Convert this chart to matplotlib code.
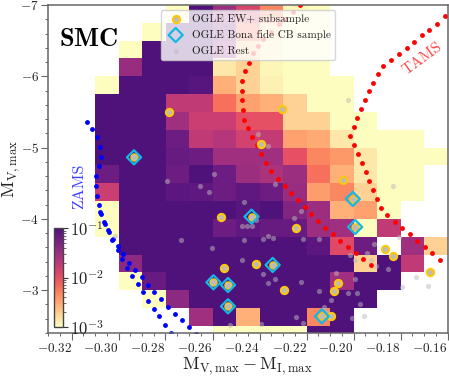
import numpy as np
import matplotlib
matplotlib.use('Agg')
import matplotlib.pyplot as plt
from matplotlib.colors import LogNorm, LinearSegmentedColormap
from matplotlib.ticker import MultipleLocator

plt.rcParams['font.family'] = ['cmr10', 'DejaVu Sans']
plt.rcParams['mathtext.fontset'] = 'cm'
plt.rcParams['axes.formatter.use_mathtext'] = True
plt.rcParams['axes.unicode_minus'] = True

n = np.nan

# log10 of the density in each cell, rows from MV=-7 down, columns from colour=-0.31
log_density = np.array([
    [n, n, n, -3, -1, -1.5, -1.9, -2.33, -2.95, -3, n, n, n, n, n],
    [n, n, -3, -1, -1, -1.3, -2.2, -2.8, -3, -3, n, n, n, n, n],
    [n, -3, -1, -1, -1, -1.5, -2.7, -2.9, -3, -3, n, n, n, n, n],
    [n, -1.47, -1, -1, -1, -2.87, -2.75, -2.95, -3, -3, n, n, n, n, n],
    [-3, -1, -1, -1, -1.05, -2.55, -2.75, -2.92, -3, -3, -3, n, n, n, n],
    [-1, -1, -1, -1.73, -1.73, -2.2, -2.47, -2.55, -2.75, -3, -3, n, n, n, n],
    [-1, -1, -1, -1.53, -1.8, -1.8, -2.0, -2.0, -2.75, -2.75, -3, -3, n, n, n],
    [-1, -1, -1, -1.2, -1.73, -1.67, -1.85, -1.75, -2.47, -2.52, -2.87, -3, -3, -3, n],
    [-1, -1, -1, -1.15, -1.2, -1.53, -1.53, -1.53, -2.0, -2.33, -2.42, -2.87, -3, -3, -3],
    [-1.2, -1, -1, -1.2, -1, -1.2, -1.5, -1.6, -1.5, -2.2, -2.55, -2.87, -3, -3, n],
    [-1.8, -1, -1, -1.08, -1.1, -1.2, -1.1, -1.2, -1.47, -2.45, -2.33, -2.75, -3, -3, n],
    [-3, -1, -1, -1, -1, -1, -1.05, -1, -1.33, -1.5, -2.55, -2.47, -3, n, n],
    [-3, -1, -1, -1, -1, -1.2, -1.1, -1.15, -1.15, -1.5, -1.53, -3, -1.73, n, n],
    [n, -1, -1, -1, -1, -1, -1, -1, -1, -1.08, -1.93, -1.2, n, -1.53, -2.75],
    [n, -1.4, -1, -1, -1, -1, -1, -1, -1, -1, -1, -2.75, -1, -1.73, n],
    [n, -3, -1.15, -1, -1, -1, -1, -1, -1, -1, -1.53, -1, -1, n, n],
    [n, n, -3, -1.4, -1, -1, -1, -1, -1, -1, -1, -1, n, n, n],
    [n, n, n, n, -1.53, -1, -2.55, -1, -1, -2.33, -1, n, n, n, n],
    [n, n, n, n, n, -3, -3, -3, -3, -1, -1, n, n, n, n],
])
color_edges = np.arange(-0.31, -0.155, 0.01)
mag_edges = np.arange(-7.0, -2.2, 0.25)

# ZAMS tracks
zams1_x = [-0.3134, -0.3112, -0.3091, -0.3078, -0.3075, -0.3084, -0.3094, -0.3095, -0.3091, -0.3084,
           -0.3073, -0.3056, -0.3039, -0.3024, -0.3003, -0.2982, -0.2956, -0.2929, -0.2902, -0.2874,
           -0.2847, -0.2819, -0.2790, -0.2761, -0.2731, -0.2700, -0.2670]
zams1_y = [-5.359, -5.257, -5.144, -5.014, -4.869, -4.738, -4.602, -4.462, -4.326, -4.191,
           -4.074, -3.934, -3.817, -3.723, -3.616, -3.503, -3.387, -3.284, -3.181, -3.078,
           -2.975, -2.872, -2.769, -2.671, -2.578, -2.484, -2.391]
zams2_x = [-0.3078, -0.3061, -0.3046, -0.3026, -0.3003, -0.2985, -0.2964, -0.2941, -0.2918, -0.2895,
           -0.2873, -0.2850, -0.2826, -0.2802, -0.2778]
zams2_y = [-4.097, -3.957, -3.840, -3.700, -3.560, -3.443, -3.316, -3.204, -3.087, -2.970,
           -2.854, -2.741, -2.634, -2.517, -2.405]

# TAMS tracks
tams1_x = [-0.2227, -0.2256, -0.2291, -0.2319, -0.2352, -0.2383, -0.2407, -0.2426, -0.2444, -0.2463,
           -0.2475, -0.2474, -0.2473, -0.2471, -0.2468, -0.2451, -0.2433, -0.2412, -0.2393, -0.2372,
           -0.2351, -0.2321, -0.2293, -0.2264, -0.2236, -0.2207, -0.2179, -0.2149, -0.2120, -0.2088,
           -0.2056, -0.2023, -0.1990, -0.1958, -0.1925]
tams1_y = [-6.996, -6.90, -6.81, -6.73, -6.62, -6.53, -6.43, -6.32, -6.19, -6.075,
           -5.94, -5.80, -5.67, -5.53, -5.39, -5.28, -5.15, -5.03, -4.91, -4.78,
           -4.67, -4.565, -4.466, -4.368, -4.270, -4.167, -4.069, -3.966, -3.868, -3.784,
           -3.695, -3.611, -3.527, -3.438, -3.349]
tams2_x = [-0.1610, -0.1643, -0.1677, -0.1710, -0.1742, -0.1773, -0.1806, -0.1840, -0.1873, -0.1897,
           -0.1915, -0.1932, -0.1949, -0.1966, -0.1983, -0.2000, -0.2015, -0.1998, -0.1982, -0.1965,
           -0.1948, -0.1932, -0.1915, -0.1900, -0.1883, -0.1856, -0.1823, -0.1792, -0.1759, -0.1728,
           -0.1697, -0.1664, -0.1632]
tams2_y = [-6.842, -6.739, -6.655, -6.575, -6.486, -6.402, -6.318, -6.229, -6.140, -6.037,
           -5.911, -5.790, -5.663, -5.537, -5.415, -5.289, -5.163, -5.037, -4.916, -4.785,
           -4.658, -4.527, -4.401, -4.275, -4.149, -4.050, -3.962, -3.873, -3.784, -3.695,
           -3.606, -3.517, -3.429]

# stars
ew_x = [-0.2785, -0.2304, -0.2393, -0.2565, -0.2553, -0.2044, -0.2244, -0.2413, -0.2294, -0.2064,
        -0.2083, -0.2095, -0.1864, -0.1834, -0.1674]
ew_y = [-5.504, -5.542, -5.051, -4.027, -3.307, -4.551, -3.877, -3.363, -3.003, -3.097,
        -2.989, -2.634, -3.574, -3.485, -3.256]
cb_x = [-0.2934, -0.2434, -0.2344, -0.2135, -0.2003, -0.1993, -0.2596, -0.2534, -0.2534]
cb_y = [-4.864, -4.032, -3.354, -2.634, -4.280, -3.887, -3.111, -3.073, -2.774]
rest_x = [-0.2595, -0.2024, -0.2405, -0.2364, -0.2795, -0.2654, -0.2615, -0.3014, -0.2735, -0.2604,
          -0.2475, -0.2465, -0.2475, -0.2525, -0.2334, -0.2464, -0.2224, -0.2413, -0.2253, -0.2454,
          -0.2433, -0.2383, -0.2364, -0.2344, -0.2214, -0.2145, -0.2383, -0.2364, -0.2334, -0.2224,
          -0.2145, -0.2074, -0.1995, -0.2024, -0.1983, -0.1973, -0.2094, -0.2124, -0.2114, -0.2244,
          -0.2214, -0.2393, -0.2005, -0.1954, -0.1834, -0.1914, -0.2013, -0.1993, -0.1944, -0.1924,
          -0.1904, -0.1854, -0.1805, -0.1793, -0.1734, -0.1684]
rest_y = [-4.635, -5.663, -5.187, -5.023, -4.527, -4.457, -4.382, -3.761, -3.700, -3.597,
          -3.901, -3.709, -3.429, -2.517, -4.490, -4.242, -4.111, -3.980, -4.013, -3.901,
          -3.896, -3.723, -3.756, -3.733, -3.723, -3.723, -3.232, -3.101, -3.162, -3.120,
          -2.989, -3.246, -3.153, -2.966, -2.966, -2.807, -2.858, -2.760, -2.699, -2.620,
          -2.545, -2.531, -2.615, -2.643, -4.467, -3.653, -3.499, -3.419, -3.527, -3.429,
          -3.335, -3.298, -3.742, -3.041, -3.186, -3.055]

x_ticks = [-0.32, -0.30, -0.28, -0.26, -0.24, -0.22, -0.20, -0.18, -0.16]
x_labels = ['$-0.32$', '$-0.30$', '$-0.28$', '$-0.26$', '$-0.24$', '$-0.22$', '$-0.20$', '$-0.18$', '$-0.16$']
y_ticks = [-7, -6, -5, -4, -3]
y_labels = ['$-7$', '$-6$', '$-5$', '$-4$', '$-3$']

frame_color = '#666666'
text_color = '#222222'

# magma_r without the nearly black end
cmap = LinearSegmentedColormap.from_list('magma_cut', plt.cm.magma_r(np.linspace(0, 0.75, 256)))
cmap.set_bad('white')

fig = plt.figure(figsize=(4.49, 3.76), dpi=100)
ax = fig.add_axes([48 / 449, 43 / 376, 399.5 / 449, 328 / 376])

mesh = ax.pcolormesh(color_edges, mag_edges, 10.0 ** np.ma.masked_invalid(log_density),
                     cmap=cmap, norm=LogNorm(vmin=1e-3, vmax=1e-1), linewidth=0, rasterized=True)

ax.plot(zams1_x, zams1_y, 'o', color='blue', ms=3.5, mew=0)
ax.plot(zams2_x, zams2_y, 'o', color='blue', ms=3.5, mew=0)
ax.plot(tams1_x, tams1_y, 'o', color='red', ms=3.5, mew=0)
ax.plot(tams2_x, tams2_y, 'o', color='red', ms=3.5, mew=0)

ax.scatter(rest_x, rest_y, s=14, color='#bbbbbb', alpha=0.5, linewidths=0, label='OGLE Rest', zorder=3)
ax.scatter(ew_x, ew_y, s=26, facecolor='#bbbbbb', edgecolor='#fcc70c', linewidths=1.6,
           label='OGLE EW+ subsample', zorder=4)
ax.scatter(cb_x, cb_y, s=26, facecolor='#bbbbbb', edgecolor='#fcc70c', linewidths=1.0, zorder=4)
ax.scatter(cb_x, cb_y, s=52, marker='D', facecolor='none', edgecolor='#14b8e6', linewidths=1.6,
           label='OGLE Bona fide CB sample', zorder=5)

ax.set_xlim(-0.33, -0.16)
ax.set_ylim(-2.4, -7)
ax.set_xticks(x_ticks)
ax.set_xticklabels(x_labels, ha='right')
ax.set_yticks(y_ticks)
ax.set_yticklabels(y_labels)
ax.xaxis.set_minor_locator(MultipleLocator(0.005))
ax.yaxis.set_minor_locator(MultipleLocator(0.2))
ax.tick_params(which='major', length=5, width=0.8, color=frame_color, labelsize=9.5,
               labelcolor=text_color, pad=1.5)
ax.tick_params(which='minor', length=2.5, width=0.7, color=frame_color)
for s in ax.spines.values():
    s.set_color(frame_color)
    s.set_linewidth(1.1)

ax.set_xlabel(r'$\mathrm{M_{V,max}-M_{I,max}}$', fontsize=13, color=text_color, labelpad=0)
ax.set_ylabel(r'$\mathrm{M_{V,max}}$', fontsize=13, color=text_color, labelpad=-1)

ax.text(-0.3253, -6.43, r'$\mathbf{SMC}$', fontsize=19, color='black', va='baseline', ha='left')
ax.text(-0.1705, -6.248, 'TAMS', color='red', fontsize=11, rotation=36, alpha=0.75,
        ha='center', va='center')
ax.text(-0.3166, -4.458, 'ZAMS', color='blue', fontsize=11.5, rotation=90, alpha=0.75,
        ha='center', va='center')

h, l = ax.get_legend_handles_labels()
order = [l.index('OGLE EW+ subsample'), l.index('OGLE Bona fide CB sample'), l.index('OGLE Rest')]
leg = ax.legend([h[i] for i in order], [l[i] for i in order], loc='upper left',
                bbox_to_anchor=(0.282, 0.985), borderaxespad=0, fontsize=8, framealpha=0.8,
                labelspacing=0.55, handletextpad=0.5, borderpad=0.35, labelcolor=text_color)
leg.set_zorder(10)

cax = fig.add_axes([54.3 / 449, (376 - 326.7) / 376, 9 / 449, 98.4 / 376])
cb = fig.colorbar(mesh, cax=cax)
cb.set_ticks([1e-3, 1e-2, 1e-1])
cb.ax.tick_params(which='major', length=3.5, width=0.8, color='#333333', labelsize=12,
                  labelcolor=text_color, pad=1)
cb.ax.tick_params(which='minor', length=2, width=0.5, color='#333333')
cb.outline.set_edgecolor('#444444')
cb.outline.set_linewidth(1.0)

fig.savefig('out.png', dpi=100)
